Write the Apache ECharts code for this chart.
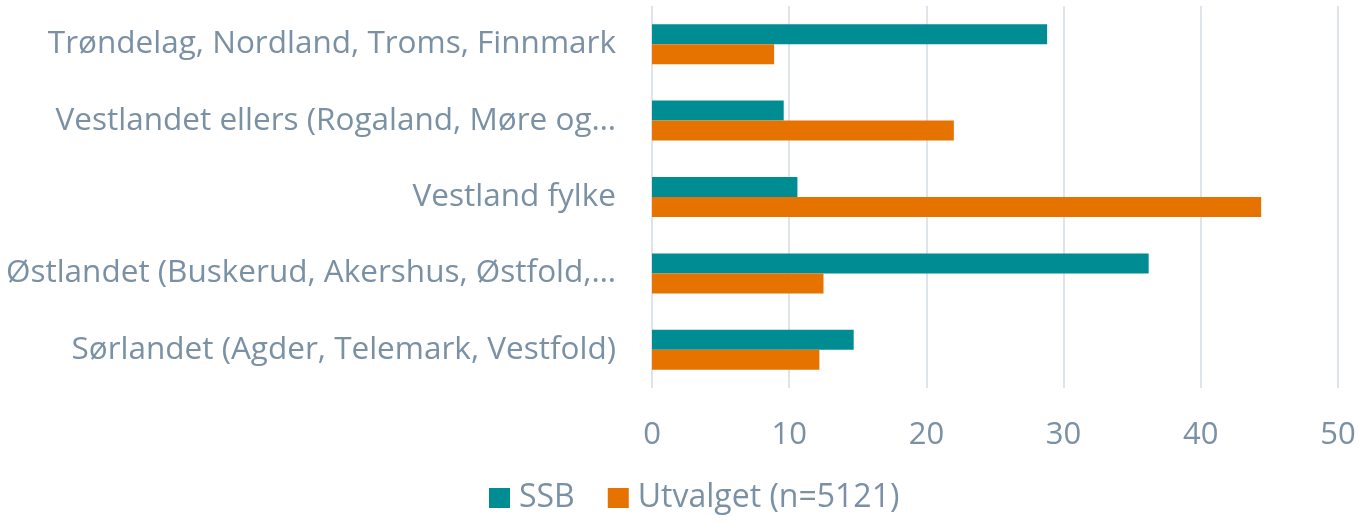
<!DOCTYPE html>
<html>
<head>
<meta charset="utf-8">
<script src="https://cdn.jsdelivr.net/npm/echarts@6/dist/echarts.min.js"></script>
<style>
  html, body { margin: 0; padding: 0; background: #fff; }
  #chart { width: 1359px; height: 524px; }
</style>
</head>
<body>
<div id="chart"></div>
<script>
const regions = [
  "Trøndelag, Nordland, Troms, Finnmark",
  "Vestlandet ellers (Rogaland, Møre og…",
  "Vestland fylke",
  "Østlandet (Buskerud, Akershus, Østfold,…",
  "Sørlandet (Agder, Telemark, Vestfold)",
];
const ssb = [28.8, 9.6, 10.6, 36.2, 14.7];
const utvalget = [8.9, 22.0, 44.4, 12.5, 12.2];
const xTicks = [0, 10, 20, 30, 40, 50];

const textColor = "#7a91a5";
const font = "'Open Sans', Lato, sans-serif";

const chart = echarts.init(document.getElementById("chart"));
chart.setOption({
  animation: false,
  textStyle: { fontFamily: font },
  grid: { left: 652, right: 21, top: 6, bottom: 136, outerBoundsMode: "none", containLabel: false },
  legend: {
    data: ["SSB", "Utvalget (n=5121)"],
    left: 484,
    bottom: 5,
    icon: "rect",
    itemWidth: 21,
    itemHeight: 20,
    itemGap: 33,
    textStyle: { color: textColor, fontSize: 32, fontFamily: font, padding: [0, 0, 0, 4] },
  },
  xAxis: {
    type: "value",
    min: xTicks[0],
    max: xTicks[xTicks.length - 1],
    interval: 10,
    axisLine: { show: false },
    axisTick: { show: false },
    splitLine: { lineStyle: { color: "#dfe4ea", width: 2 } },
    axisLabel: { color: textColor, fontSize: 31, margin: 32 },
  },
  yAxis: {
    type: "category",
    inverse: true,
    data: regions,
    axisLine: { show: false },
    axisTick: { show: false },
    axisLabel: { color: textColor, fontSize: 31.5, margin: 36 },
  },
  series: [
    {
      name: "SSB",
      type: "bar",
      data: ssb,
      barWidth: 20,
      barGap: "0%",
      itemStyle: { color: "#008c93" },
    },
    {
      name: "Utvalget (n=5121)",
      type: "bar",
      data: utvalget,
      barWidth: 20,
      barGap: "0%",
      itemStyle: { color: "#e67300" },
    },
  ],
});
</script>
</body>
</html>
